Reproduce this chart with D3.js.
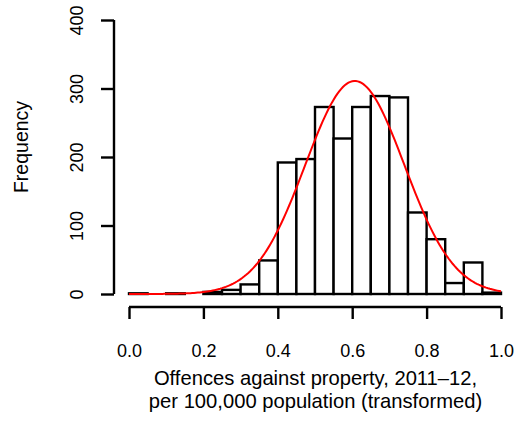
<!DOCTYPE html>
<html>
<head>
<meta charset="utf-8">
<script src="https://cdn.jsdelivr.net/npm/d3@7"></script>
<style>
  html, body { margin: 0; padding: 0; background: #fff; }
  svg { display: block; }
  text { font-family: "Liberation Sans", Arial, Helvetica, sans-serif; fill: #000; }
</style>
</head>
<body>
<script>
// ---- data ----
const binEdges = [0, 0.05, 0.1, 0.15, 0.2, 0.25, 0.3, 0.35, 0.4, 0.45, 0.5,
                  0.55, 0.6, 0.65, 0.7, 0.75, 0.8, 0.85, 0.9, 0.95, 1.0];
const counts = [1, 0, 1, 0, 3, 6, 14, 49, 192, 197, 273, 227, 273, 289, 287, 119, 80, 16, 46, 2];
const xTicks = [0, 0.2, 0.4, 0.6, 0.8, 1.0];
const xTickLabels = ["0.0", "0.2", "0.4", "0.6", "0.8", "1.0"];
const yTicks = [0, 100, 200, 300, 400];
const yTickLabels = ["0", "100", "200", "300", "400"];
// fitted normal curve parameters
const normMean = 0.607;
const normSd = 0.1331;
const xLabelLines = ["Offences against property, 2011\u201312,", "per 100,000 population (transformed)"];
const yLabel = "Frequency";

// ---- layout ----
const W = 521, H = 421;
const svg = d3.select("body").append("svg").attr("width", W).attr("height", H);

const x = d3.scaleLinear().domain([0, 1]).range([129, 501]);
const y = d3.scaleLinear().domain([0, 400]).range([294, 20]);

// bars
const bins = counts.map((c, i) => ({x0: binEdges[i], x1: binEdges[i + 1], c}));
svg.append("g").selectAll("rect").data(bins).join("rect")
  .attr("x", d => x(d.x0))
  .attr("y", d => y(d.c))
  .attr("width", d => x(d.x1) - x(d.x0))
  .attr("height", d => y(0) - y(d.c))
  .attr("fill", "#fff")
  .attr("stroke", "#000")
  .attr("stroke-width", 2.4);

// normal curve scaled to counts
const N = d3.sum(counts);
const bw = binEdges[1] - binEdges[0];
const xs = d3.range(0, 1.0001, 0.005);
const curve = xs.map(v => [v, N * bw * Math.exp(-0.5 * ((v - normMean) / normSd) ** 2) / (normSd * Math.sqrt(2 * Math.PI))]);
svg.append("path")
  .datum(curve)
  .attr("d", d3.line().x(d => x(d[0])).y(d => y(d[1])))
  .attr("fill", "none")
  .attr("stroke", "#ff0000")
  .attr("stroke-width", 2);

// x axis
const xAxis = svg.append("g").attr("transform", "translate(0,307)");
xAxis.call(d3.axisBottom(x).tickValues(xTicks).tickFormat((d, i) => xTickLabels[i]).tickSize(12).tickPadding(0));
xAxis.select(".domain").attr("d", `M${x(0)},0H${x(1)}`).attr("stroke", "#000").attr("stroke-width", 2.4);
xAxis.selectAll(".tick line").attr("stroke", "#000").attr("stroke-width", 2.4);
xAxis.selectAll(".tick text").attr("font-size", 18).attr("dy", null).attr("y", 49.5)
  .attr("font-family", '"Liberation Sans", Arial, sans-serif');

// y axis
const yAxis = svg.append("g").attr("transform", "translate(114,0)");
yAxis.call(d3.axisLeft(y).tickValues(yTicks).tickFormat((d, i) => yTickLabels[i]).tickSize(13));
yAxis.select(".domain").attr("d", `M0,${y(0)}V${y(400)}`).attr("stroke", "#000").attr("stroke-width", 2.4);
yAxis.selectAll(".tick line").attr("stroke", "#000").attr("stroke-width", 2.4);
yAxis.selectAll(".tick text").remove();
yAxis.selectAll(".tick").append("text")
  .attr("transform", "translate(-31,0) rotate(-90)")
  .attr("text-anchor", "middle")
  .attr("font-size", 18)
  .attr("font-family", '"Liberation Sans", Arial, sans-serif')
  .attr("fill", "#000")
  .text((d, i) => yTickLabels[i]);

// axis labels
svg.append("g").selectAll("text").data(xLabelLines).join("text")
  .attr("x", 315.5)
  .attr("y", (d, i) => 385 + i * 22.7)
  .attr("text-anchor", "middle")
  .attr("font-size", 20.2)
  .text(d => d);

svg.append("text")
  .attr("transform", `translate(28,147) rotate(-90)`)
  .attr("text-anchor", "middle")
  .attr("font-size", 19.5)
  .text(yLabel);
</script>
</body>
</html>
